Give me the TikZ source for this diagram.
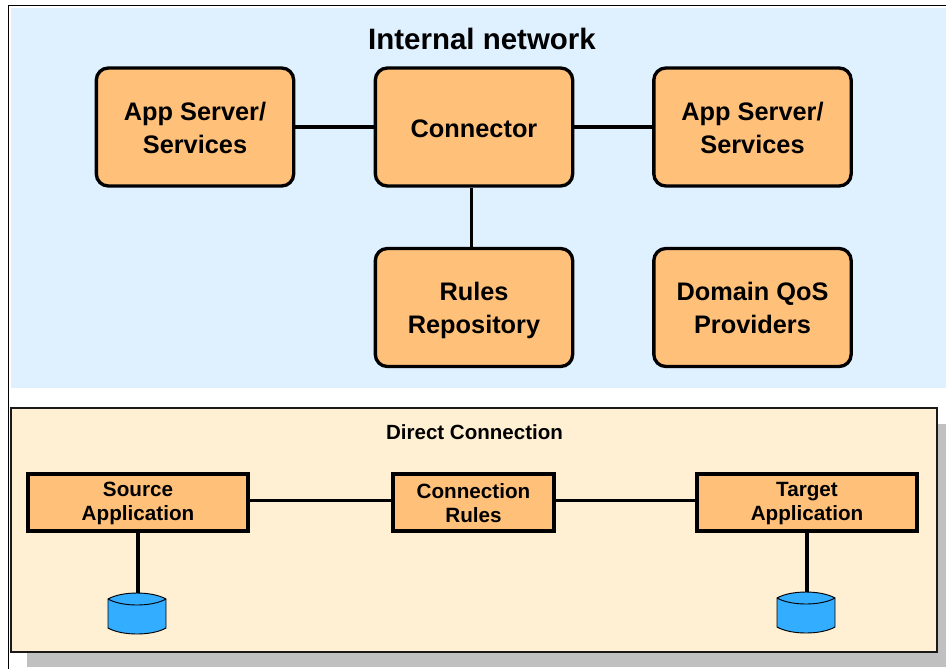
\documentclass[tikz,border=0pt]{standalone}
\usepackage{fontspec}
\setmainfont{Liberation Sans}
\usetikzlibrary{positioning,calc}
\definecolor{netblue}{RGB}{223,240,255}
\definecolor{beige}{RGB}{255,240,212}
\definecolor{boxorange}{RGB}{255,192,122}
\definecolor{dbblue}{RGB}{51,173,255}
\definecolor{shadowgray}{RGB}{192,192,192}
\tikzset{
    bigbox/.style={draw, fill=boxorange, line width=2.5pt, rounded corners=9pt, align=center, minimum width=148pt, minimum height=88.5pt, font=\fontsize{19}{24.5}\bfseries\selectfont, execute at begin node=\rule{0pt}{#1}, execute at end node=\rule[-3.9pt]{0pt}{0pt}},
    bigbox/.default=43pt,
    smallbox/.style={draw, fill=boxorange, line width=2.6pt, inner ysep=0pt, align=center, minimum height=43pt, font=\fontsize{15.5}{18}\bfseries\selectfont, execute at begin node=\rule{0pt}{33.2pt}, execute at end node=\rule[-#1]{0pt}{0pt}},
    smallbox/.default=3.4pt,
    dbnode/.style={minimum width=43.5pt, minimum height=30.75pt, inner sep=0pt},
    link/.style={line width=2.3pt}
}
\begin{document}
\begin{tikzpicture}[x=0.75pt,y=-0.75pt]
    \useasboundingbox (0,0) rectangle (946,669);
    \fill[white] (0,0) rectangle (946,669);
    \draw[line width=1pt] (946,5.5) -- (8.5,5.5) -- (8.5,669);
    \fill[netblue] (11,8) rectangle (946,388);
    \fill[shadowgray] (27,424) rectangle (946,667);
    \draw[fill=beige, line width=1.2pt, draw=black!90] (11,408) rectangle (937,652);

    \node[font=\fontsize{22.1}{26}\bfseries\selectfont] (title) at (482,39) {Internal network};
    \node[bigbox] (appl) at (195,127) {App Server/\\Services};
    \node[bigbox=19pt] (conn) at (474,127) {Connector};
    \node[bigbox] (appr) at (752.5,127) {App Server/\\Services};
    \node[bigbox] (repo) at (474,307.5) {Rules\\Repository};
    \node[bigbox] (qos) at (752.5,307.5) {Domain QoS\\Providers};
    \draw[link] (appl) -- (conn);
    \draw[link] (conn) -- (appr);
    \draw[link] ([xshift=-1.7pt]conn.south) -- ([xshift=-1.7pt]repo.north);

    \node[font=\fontsize{15.4}{18}\bfseries\selectfont] (direct) at (474.5,432) {Direct Connection};
    \node[smallbox=6.2pt, minimum width=165pt] (src) at (138,502.5) {Source\\Application};
    \node[smallbox, minimum width=120.5pt] (rul) at (473.5,502.5) {Connection\\Rules};
    \node[smallbox=6.2pt, minimum width=165pt] (tgt) at (807,502.5) {Target\\Application};
    \node[dbnode] (dbl) at (137,613.5) {};
    \node[dbnode] (dbr) at (806,612.5) {};
    \draw[link] ([yshift=1.8pt]src.east) -- ([yshift=1.8pt]rul.west);
    \draw[link] ([yshift=1.8pt]rul.east) -- ([yshift=1.8pt]tgt.west);
    \draw[link] (src.south) -- (src.south |- dbl.north);
    \draw[link] (tgt.south) -- (tgt.south |- dbr.north);
    \foreach \n in {dbl,dbr} {
        \begin{scope}[shift={(\n)}]
            \draw[fill=dbblue, line width=0.7pt] (-29,-14.5) .. controls (-15,-22.5) and (15,-22.5) .. (29,-14.5) -- (29,14.5) .. controls (15,22.5) and (-15,22.5) .. (-29,14.5) -- cycle;
            \draw[line width=0.7pt] (-29,-14.5) .. controls (-15,-6.5) and (15,-6.5) .. (29,-14.5);
        \end{scope}
    }
\end{tikzpicture}
\end{document}
